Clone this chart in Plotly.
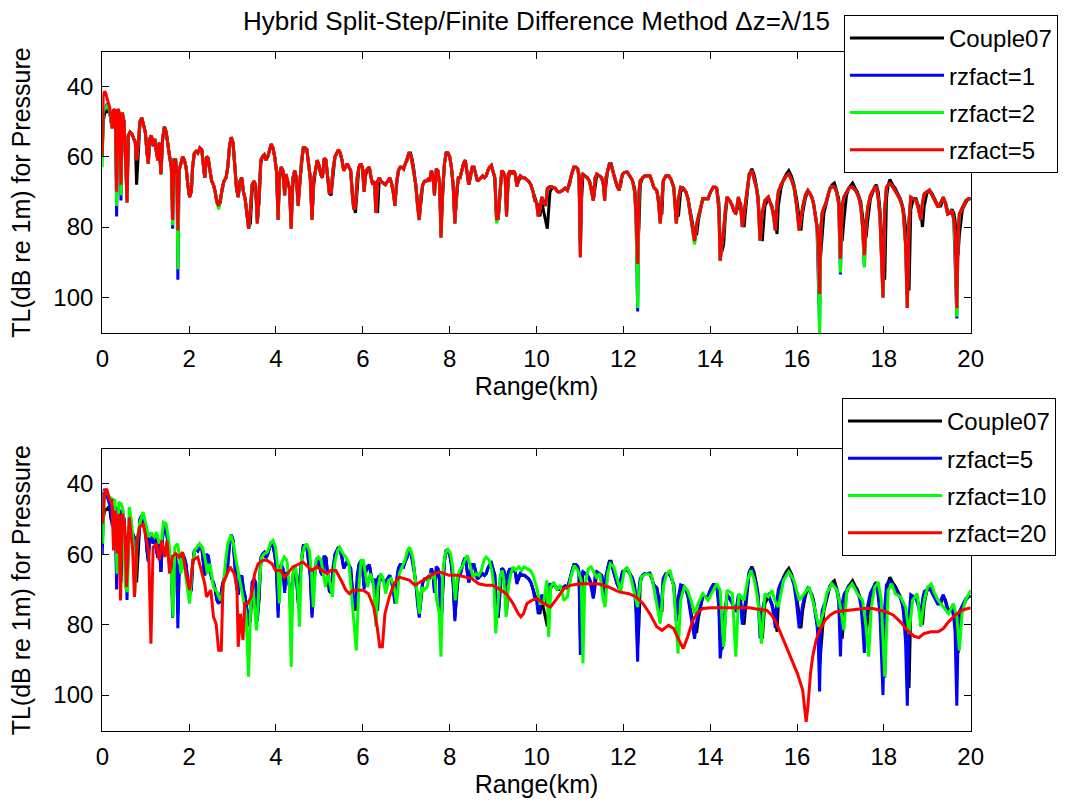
import plotly.graph_objects as go

# ---------------- data ----------------
# Top panel: shared range grid (km)
X_TOP = [
    0.00, 0.02, 0.05, 0.08, 0.11, 0.14, 0.17, 0.20, 0.23, 0.26,
    0.30, 0.33, 0.36, 0.40, 0.43, 0.46, 0.50, 0.54, 0.57, 0.60,
    0.64, 0.68, 0.72, 0.76, 0.79, 0.83, 0.87, 0.91, 0.95, 0.99,
    1.03, 1.06, 1.09, 1.13, 1.17, 1.21, 1.25, 1.28, 1.31, 1.35,
    1.39, 1.43, 1.47, 1.51, 1.55, 1.59, 1.62, 1.65, 1.69, 1.72,
    1.74, 1.77, 1.81, 1.85, 1.89, 1.93, 1.97, 2.01, 2.05, 2.08,
    2.12, 2.16, 2.20, 2.25, 2.29, 2.33, 2.36, 2.40, 2.44, 2.48,
    2.52, 2.56, 2.60, 2.64, 2.68, 2.72, 2.76, 2.80, 2.85, 2.89,
    2.93, 2.97, 3.01, 3.05, 3.09, 3.13, 3.17, 3.21, 3.25, 3.29,
    3.33, 3.37, 3.41, 3.45, 3.49, 3.53, 3.57, 3.61, 3.65, 3.69,
    3.73, 3.77, 3.81, 3.85, 3.89, 3.93, 3.97, 4.01, 4.05, 4.08,
    4.12, 4.16, 4.20, 4.23, 4.27, 4.31, 4.35, 4.39, 4.43, 4.47,
    4.51, 4.55, 4.59, 4.63, 4.67, 4.71, 4.75, 4.79, 4.83, 4.87,
    4.91, 4.95, 4.99, 5.03, 5.07, 5.11, 5.15, 5.19, 5.23, 5.27,
    5.31, 5.36, 5.40, 5.44, 5.48, 5.52, 5.56, 5.60, 5.64, 5.68,
    5.72, 5.76, 5.79, 5.83, 5.87, 5.91, 5.95, 5.99, 6.03, 6.07,
    6.11, 6.15, 6.19, 6.23, 6.27, 6.30, 6.34, 6.38, 6.42, 6.47,
    6.52, 6.57, 6.62, 6.66, 6.70, 6.74, 6.78, 6.82, 6.86, 6.90,
    6.94, 6.98, 7.02, 7.06, 7.10, 7.14, 7.18, 7.22, 7.26, 7.30,
    7.34, 7.38, 7.42, 7.46, 7.50, 7.54, 7.58, 7.62, 7.65, 7.69,
    7.73, 7.77, 7.80, 7.84, 7.88, 7.92, 7.96, 8.00, 8.04, 8.08,
    8.12, 8.16, 8.20, 8.24, 8.28, 8.32, 8.36, 8.40, 8.44, 8.48,
    8.52, 8.56, 8.60, 8.64, 8.68, 8.72, 8.76, 8.80, 8.84, 8.88,
    8.92, 8.96, 9.00, 9.04, 9.08, 9.12, 9.16, 9.20, 9.24, 9.28,
    9.31, 9.35, 9.39, 9.43, 9.47, 9.51, 9.55, 9.59, 9.63, 9.67,
    9.72, 9.77, 9.82, 9.87, 9.92, 9.96, 10.00, 10.04, 10.08, 10.12,
    10.17, 10.21, 10.25, 10.31, 10.37, 10.43, 10.49, 10.55, 10.61, 10.66,
    10.71, 10.76, 10.81, 10.86, 10.91, 10.95, 10.98, 11.01, 11.04, 11.07,
    11.12, 11.17, 11.22, 11.27, 11.31, 11.35, 11.39, 11.45, 11.50, 11.54,
    11.57, 11.60, 11.64, 11.68, 11.72, 11.77, 11.82, 11.86, 11.90, 11.94,
    11.98, 12.03, 12.09, 12.15, 12.21, 12.26, 12.29, 12.33, 12.36, 12.39,
    12.44, 12.49, 12.55, 12.61, 12.66, 12.70, 12.77, 12.81, 12.85, 12.89,
    12.92, 12.98, 13.04, 13.10, 13.16, 13.22, 13.27, 13.32, 13.38, 13.44,
    13.49, 13.54, 13.59, 13.64, 13.69, 13.73, 13.78, 13.83, 13.89, 13.95,
    14.01, 14.07, 14.12, 14.15, 14.20, 14.23, 14.27, 14.31, 14.35, 14.39,
    14.45, 14.51, 14.55, 14.59, 14.65, 14.70, 14.74, 14.78, 14.81, 14.85,
    14.90, 14.96, 15.01, 15.06, 15.10, 15.15, 15.20, 15.26, 15.34, 15.42,
    15.46, 15.50, 15.54, 15.57, 15.63, 15.69, 15.75, 15.81, 15.87, 15.93,
    15.99, 16.05, 16.09, 16.13, 16.19, 16.25, 16.30, 16.34, 16.38, 16.42,
    16.46, 16.49, 16.52, 16.55, 16.58, 16.62, 16.66, 16.71, 16.76, 16.81,
    16.86, 16.91, 16.96, 17.00, 17.04, 17.08, 17.14, 17.19, 17.24, 17.28,
    17.34, 17.39, 17.43, 17.47, 17.51, 17.55, 17.59, 17.63, 17.69, 17.75,
    17.79, 17.83, 17.87, 17.91, 17.95, 17.98, 18.02, 18.06, 18.10, 18.14,
    18.20, 18.26, 18.32, 18.38, 18.42, 18.45, 18.50, 18.54, 18.58, 18.62,
    18.68, 18.74, 18.80, 18.85, 18.89, 18.93, 18.99, 19.05, 19.11, 19.17,
    19.21, 19.25, 19.31, 19.37, 19.42, 19.47, 19.52, 19.57, 19.61, 19.64,
    19.68, 19.71, 19.74, 19.81, 19.89, 19.95, 20.00,
]

# Couple07 (TL, dB re 1m)
TL_COUPLE07 = [
    58, 50, 48, 47, 47.5, 46.5, 47, 50, 51, 47,
    47, 66, 47, 48, 66, 48, 50, 60, 70, 54,
    53, 53.5, 55, 56, 68, 60, 50, 49, 51, 53,
    59, 62, 55, 54, 57, 55, 59, 61, 56, 65,
    55, 51.5, 53, 57, 60, 63, 74, 61, 61, 66,
    77, 64, 62, 60, 61, 63, 68, 71.5, 70, 63,
    59, 58.5, 59, 57.5, 58, 62, 66, 60, 60.5, 64,
    67, 68, 70, 73, 74, 73, 69, 67, 66, 63,
    57, 54.5, 56, 62, 69, 71.5, 67, 66, 70, 72,
    76, 80, 79, 70, 67, 68, 78, 73, 62, 60,
    59.5, 61, 60, 58, 56.5, 57.5, 60, 64, 76, 67,
    63, 64, 70, 66, 67, 69, 78, 68, 64, 66,
    73, 67, 61, 57.5, 57.5, 58, 62, 66, 77, 68,
    64, 61, 62.5, 65, 66, 60.5, 61, 66, 70.5, 71,
    65, 60, 59, 58, 59, 61, 64, 63, 62, 63,
    64, 70, 74, 76, 68, 63, 62, 63, 69, 65,
    63.5, 63, 66, 68, 67, 74, 76, 66, 67, 67.5,
    68, 67, 66, 67.5, 70, 73, 68, 64, 63, 63,
    63.5, 62, 61, 59, 59, 61, 64, 68, 73, 77,
    73, 68, 67, 67, 66.5, 67, 64, 66, 70, 65,
    64, 68, 80, 72, 62, 59, 59, 60, 63, 68,
    78, 72, 66, 66, 64, 62, 61, 64, 68, 66,
    63, 63, 65, 67, 66.5, 66, 65.5, 66, 65.5, 64,
    63, 62.5, 64, 66, 77, 78, 71, 64, 64.5, 66,
    76, 67, 64, 65, 64, 65, 68, 67, 65.5, 66,
    66, 66.5, 67, 68, 70, 72, 73, 74, 77, 73,
    76, 78, 80.5, 70, 68.7, 69, 70, 70, 69.5, 69,
    69.6, 68, 65, 63, 63, 63.5, 65, 84, 72, 65,
    65.5, 66, 67, 69, 72.5, 68, 65, 65.5, 66, 68,
    71, 68, 64, 62, 62, 64.5, 67, 68.5, 69.6, 68,
    65, 64.5, 64.4, 65.5, 66.8, 69, 73, 86, 80, 68,
    66, 65.5, 65.5, 65.4, 67, 68.7, 69.6, 72, 76, 76,
    67, 65.5, 65.4, 66.5, 68.7, 76, 77, 70, 69, 70,
    72, 75, 79, 82, 82, 78, 75, 72, 72, 72,
    70, 68.7, 68.7, 69, 73, 84, 87, 85, 77, 72,
    72.5, 74, 75.5, 76, 74, 73, 78, 80, 76, 70,
    65, 63.5, 65, 68, 71, 80, 84, 74, 72, 74,
    76, 78, 82, 74, 69, 66.5, 65, 64, 65.5, 68,
    72, 78, 81, 76, 72, 69.6, 70.5, 71.5, 73, 76,
    79, 82, 92, 87, 84, 76, 74, 71, 69, 68,
    67.5, 69.5, 72, 78, 84, 78, 71, 69, 68, 67.5,
    69, 70, 71.5, 73, 77, 80, 83, 78, 72, 70,
    68.5, 68, 70, 75, 82, 90, 95, 72, 68, 66.5,
    68, 69, 70.5, 72, 73.5, 75, 80, 90, 98, 75,
    72, 72, 74, 76, 80, 74, 70.5, 69.5, 70.5, 72,
    73, 74, 74, 72, 73, 75.5, 76, 75, 76, 78,
    85, 88, 82, 75, 73, 72, 72,
]

# rzfact=1
TL_RZ1 = [
    60, 48, 47, 46, 45, 46, 47, 50, 52, 47,
    47, 77, 46.5, 48, 72.5, 47.5, 50, 62, 73, 54,
    53, 53.5, 55, 56, 61, 55, 50, 49, 51, 53,
    59, 62, 55, 54, 57, 55, 59, 61, 56, 65,
    55, 51.5, 53, 57, 60, 63, 80.5, 61, 61, 66,
    95, 64, 62, 60, 61, 63, 68, 71.5, 70, 63,
    59, 58.5, 59, 57.5, 58, 62, 66, 60, 60.5, 64,
    67, 68, 70, 73, 74, 72, 69, 67, 66, 63,
    57, 54.5, 56, 62, 69, 71.5, 67, 66, 70, 72,
    76, 80.5, 75, 68, 67, 68, 79, 72, 61, 60,
    59.5, 61, 60, 58, 56.5, 57.5, 60, 64, 78, 65,
    63, 64, 71, 65, 67, 69, 80.5, 66, 64, 66,
    74, 66, 61, 57.5, 57.5, 58, 62, 66, 78, 66,
    64, 61, 62.5, 65, 66, 60.5, 61, 66, 70.5, 70,
    64, 60, 59, 58, 59, 61, 64, 63, 62, 63,
    64, 71, 75, 74, 66, 63, 62, 63, 70, 64,
    63.5, 63, 66, 68, 67, 76, 67, 66, 67, 67.5,
    68, 67, 66, 67.5, 70, 74, 67, 64, 63, 63,
    63.5, 62, 61, 59, 59.5, 62, 65, 68, 74, 78,
    71, 68, 67, 67, 66.5, 67, 64, 66, 71, 63.5,
    64, 68, 83, 69, 62, 59, 59, 60, 63, 68,
    79, 70, 66, 66, 64, 62, 61, 64, 68, 65,
    63, 63, 65, 67, 66.5, 66, 65.5, 66, 65.5, 64,
    63, 62.5, 64, 66, 78, 77, 70, 64, 64.5, 66,
    77, 65, 64, 65, 64, 65, 68.5, 66, 65.5, 66,
    66, 66.5, 67, 68, 70, 72.5, 73, 77, 75, 71.5,
    73, 74, 69, 68.5, 68.7, 69, 70, 70, 69.5, 69,
    69.6, 67, 65, 63, 63, 63.5, 66, 88.6, 67, 65,
    65.5, 66, 67, 70, 72.5, 66, 65, 65.5, 66, 68,
    72.5, 66, 63.5, 62, 62.5, 65, 67, 68.5, 69.6, 67,
    65, 64.5, 64.4, 65.5, 66.8, 70, 76.3, 104, 70, 66.8,
    66, 65.5, 65.5, 65.4, 67, 68.7, 69.6, 73, 79, 70,
    66.8, 65.5, 65.4, 66.5, 68.7, 79, 72, 68.7, 69, 70,
    72, 76.3, 80, 84.5, 79, 77, 74, 72, 72, 72,
    70, 68.7, 68.7, 69, 75, 89.6, 85, 81, 75, 71.5,
    72.5, 74, 75.5, 76.3, 71.5, 74, 80, 76, 73.4, 69,
    65, 64, 66, 68.7, 72, 83.9, 76, 72.5, 71.5, 74.4,
    77, 81, 73, 70, 68, 66.8, 65.5, 65, 66.5, 68.7,
    74, 81, 77, 74.4, 71, 69.6, 70.5, 71.5, 73.5, 76.3,
    80, 95, 108, 80, 76, 74.5, 73.4, 71, 69, 68.5,
    68.7, 70, 73.4, 93.5, 74, 71.5, 70, 69, 68.7, 68.7,
    69.5, 70.6, 72, 74.4, 80, 91, 79, 74.4, 71, 69.6,
    68.7, 68.7, 72, 77, 88, 100, 75, 68.7, 68, 67.7,
    68.5, 69.6, 71, 72.5, 74, 76.3, 85, 103, 78, 71.5,
    72, 72.5, 75, 78, 73, 70.6, 70, 69.6, 71, 72.5,
    73.5, 74.4, 73, 71.5, 73.5, 76.3, 76, 75.3, 78, 88,
    106, 82, 76.3, 74.4, 72.5, 72, 72,
]

# rzfact=2
TL_RZ2 = [
    63, 47, 46.5, 46, 45.5, 46, 47, 50, 52, 47,
    47, 74, 46.5, 48, 71, 47.5, 50, 62, 73, 54,
    53, 53.5, 55, 56, 61, 55, 50, 49, 51, 53,
    59, 62, 55, 54, 57, 55, 59, 61, 56, 65,
    55, 51.5, 53, 57, 60, 63, 79.5, 61, 61, 66,
    92, 64, 62, 60, 61, 63, 68, 71.5, 70, 63,
    59, 58.5, 59, 57.5, 58, 62, 66, 60, 60.5, 64,
    67, 68, 70, 73, 75, 72, 69, 67, 66, 63,
    57, 54.5, 56, 62, 69, 71.5, 67, 66, 70, 72,
    76, 80.5, 75, 68, 67, 68, 79, 72, 61, 60,
    59.5, 61, 60, 58, 56.5, 57.5, 60, 64, 78, 65,
    63, 64, 71, 65, 67, 69, 80.5, 66, 64, 66,
    74, 66, 61, 57.5, 57.5, 58, 62, 66, 78, 66,
    64, 61, 62.5, 65, 66, 60.5, 61, 66, 70.5, 70,
    64, 60, 59, 58, 59, 61, 64, 63, 62, 63,
    64, 71, 75, 74, 66, 63, 62, 63, 70, 64,
    63.5, 63, 66, 68, 67, 76, 67, 66, 67, 67.5,
    68, 67, 66, 67.5, 70, 74, 67, 64, 63, 63,
    63.5, 62, 61, 59, 59.5, 62, 65, 68, 74, 78,
    71, 68, 67, 67, 66.5, 67, 64, 66, 71, 63.5,
    64, 68, 83, 69, 62, 59, 59, 60, 63, 68,
    79, 70, 66, 66, 64, 62, 61, 64, 68, 65,
    63, 63, 65, 67, 66.5, 66, 65.5, 66, 65.5, 64,
    63, 62.5, 64, 66, 79, 77, 70, 64, 64.5, 66,
    77, 65, 64, 65, 64, 65, 68.5, 66, 65.5, 66,
    66, 66.5, 67, 68, 70, 72.5, 73, 77, 75, 71.5,
    73, 74, 69, 68.5, 68.7, 69, 70, 70, 69.5, 69,
    69.6, 67, 65, 63, 63, 63.5, 66, 88.6, 67, 65,
    65.5, 66, 67, 70, 72.5, 66, 65, 65.5, 66, 68,
    72.5, 66, 63.5, 62, 62.5, 65, 67, 68.5, 69.6, 67,
    65, 64.5, 64.4, 65.5, 66.8, 70, 76.3, 103, 70, 66.8,
    66, 65.5, 65.5, 65.4, 67, 68.7, 69.6, 73, 79, 70,
    66.8, 65.5, 65.4, 66.5, 68.7, 79, 72, 68.7, 69, 70,
    72, 76.3, 80, 85, 79, 77, 74, 72, 72, 72,
    70, 68.7, 68.7, 69, 75, 89.6, 85, 81, 75, 71.5,
    72.5, 74, 75.5, 76.3, 71.5, 74, 80, 76, 73.4, 69,
    65, 64, 66, 68.7, 72, 83.9, 76, 72.5, 71.5, 74.4,
    77, 81, 73, 70, 68, 66.8, 65.5, 65, 66.5, 68.7,
    74, 81, 77, 74.4, 71, 69.6, 70.5, 71.5, 73.5, 76.3,
    80, 90, 111, 80, 76, 74.5, 73.4, 71, 69, 68.5,
    68.7, 70, 73.4, 93, 74, 71.5, 70, 69, 68.7, 68.7,
    69.5, 70.6, 72, 74.4, 80, 91.5, 79, 74.4, 71, 69.6,
    68.7, 68.7, 72, 77, 88, 100, 75, 68.7, 68, 67.7,
    68.5, 69.6, 71, 72.5, 74, 76.3, 85, 103, 78, 71.5,
    72, 72.5, 75, 78, 73, 70.6, 70, 69.6, 71, 72.5,
    73.5, 74.4, 73, 71.5, 73.5, 76.3, 76, 75.3, 78, 86,
    105.5, 82, 76.3, 74.4, 72.5, 72, 72,
]

# rzfact=5 (shown in both panels)
TL_RZ5 = [
    60, 43, 41.5, 42, 43.5, 45, 46, 49, 52, 46.5,
    47, 70, 46.5, 48, 68, 47.5, 50, 62, 73, 54,
    53, 53.5, 55, 56, 61, 55, 50, 49, 51, 53,
    59, 62, 55, 54, 57, 55, 59, 61, 56, 65,
    55, 51.5, 53, 57, 60, 63, 78, 61, 61, 66,
    81, 64, 62, 60, 61, 63, 68, 71.5, 70, 63,
    59, 58.5, 59, 57.5, 58, 62, 66, 60, 60.5, 64,
    67, 68, 70, 73, 74, 72, 69, 67, 66, 63,
    57, 54.5, 56, 62, 69, 71.5, 67, 66, 70, 72,
    76, 80.5, 75, 68, 67, 68, 79, 72, 61, 60,
    59.5, 61, 60, 58, 56.5, 57.5, 60, 64, 78, 65,
    63, 64, 71, 65, 67, 69, 80.5, 66, 64, 66,
    74, 66, 61, 57.5, 57.5, 58, 62, 66, 78, 66,
    64, 61, 62.5, 65, 66, 60.5, 61, 66, 70.5, 70,
    64, 60, 59, 58, 59, 61, 64, 63, 62, 63,
    64, 71, 75, 74, 66, 63, 62, 63, 70, 64,
    63.5, 63, 66, 68, 67, 76, 67, 66, 67, 67.5,
    68, 67, 66, 67.5, 70, 74, 67, 64, 63, 63,
    63.5, 62, 61, 59, 59.5, 62, 65, 68, 74, 78,
    71, 68, 67, 67, 66.5, 67, 64, 66, 71, 63.5,
    64, 68, 83, 69, 62, 59, 59, 60, 63, 68,
    79, 70, 66, 66, 64, 62, 61, 64, 68, 65,
    63, 63, 65, 67, 66.5, 66, 65.5, 66, 65.5, 64,
    63, 62.5, 64, 66, 78, 77, 70, 64, 64.5, 66,
    77, 65, 64, 65, 64, 65, 68.5, 66, 65.5, 66,
    66, 66.5, 67, 68, 70, 72.5, 73, 77, 75, 71.5,
    73, 74, 69, 68.5, 68.7, 69, 70, 70, 69.5, 69,
    69.6, 67, 65, 63, 63, 63.5, 66, 88.6, 67, 65,
    65.5, 66, 67, 70, 72.5, 66, 65, 65.5, 66, 68,
    72.5, 66, 63.5, 62, 62.5, 65, 67, 68.5, 69.6, 67,
    65, 64.5, 64.4, 65.5, 66.8, 70, 76.3, 90.5, 70, 66.8,
    66, 65.5, 65.5, 65.4, 67, 68.7, 69.6, 73, 79, 70,
    66.8, 65.5, 65.4, 66.5, 68.7, 79, 72, 68.7, 69, 70,
    72, 76.3, 80, 84, 79, 77, 74, 72, 72, 72,
    70, 68.7, 68.7, 69, 75, 89.6, 85, 81, 75, 71.5,
    72.5, 74, 75.5, 76.3, 71.5, 74, 80, 76, 73.4, 69,
    65, 64, 66, 68.7, 72, 83.9, 76, 72.5, 71.5, 74.4,
    77, 81, 73, 70, 68, 66.8, 65.5, 65, 66.5, 68.7,
    74, 81, 77, 74.4, 71, 69.6, 70.5, 71.5, 73.5, 76.3,
    80, 84.8, 99, 80, 76, 74.5, 73.4, 71, 69, 68.5,
    68.7, 70, 73.4, 89, 74, 71.5, 70, 69, 68.7, 68.7,
    69.5, 70.6, 72, 74.4, 80, 88, 79, 74.4, 71, 69.6,
    68.7, 68.7, 72, 77, 88, 100, 75, 68.7, 68, 67.7,
    68.5, 69.6, 71, 72.5, 74, 76.3, 85, 103, 78, 71.5,
    72, 72.5, 75, 78, 73, 70.6, 70, 69.6, 71, 72.5,
    73.5, 74.4, 73, 71.5, 73.5, 76.3, 76, 75.3, 78, 82,
    103, 82, 76.3, 74.4, 72.5, 72, 72,
]

# Bottom panel: rzfact=10
X_RZ10 = [
    0.01, 0.05, 0.10, 0.17, 0.23, 0.29, 0.34, 0.38, 0.44, 0.48,
    0.53, 0.58, 0.62, 0.67, 0.71, 0.75, 0.80, 0.86, 0.94, 1.02,
    1.07, 1.13, 1.20, 1.25, 1.31, 1.37, 1.41, 1.47, 1.53, 1.59,
    1.63, 1.67, 1.73, 1.77, 1.81, 1.86, 1.93, 2.01, 2.07, 2.13,
    2.18, 2.24, 2.31, 2.36, 2.42, 2.48, 2.56, 2.64, 2.72, 2.78,
    2.84, 2.89, 2.96, 3.02, 3.08, 3.14, 3.20, 3.26, 3.31, 3.37,
    3.42, 3.47, 3.55, 3.61, 3.67, 3.74, 3.80, 3.87, 3.93, 3.99,
    4.04, 4.08, 4.12, 4.19, 4.25, 4.31, 4.35, 4.39, 4.45, 4.50,
    4.54, 4.59, 4.65, 4.70, 4.77, 4.82, 4.86, 4.92, 4.98, 5.04,
    5.10, 5.14, 5.19, 5.24, 5.30, 5.35, 5.42, 5.47, 5.54, 5.61,
    5.68, 5.73, 5.79, 5.85, 5.91, 5.96, 6.01, 6.07, 6.11, 6.17,
    6.23, 6.27, 6.30, 6.35, 6.41, 6.46, 6.53, 6.59, 6.65, 6.72,
    6.78, 6.84, 6.91, 6.97, 7.03, 7.08, 7.15, 7.20, 7.26, 7.30,
    7.36, 7.41, 7.48, 7.54, 7.60, 7.65, 7.70, 7.76, 7.80, 7.84,
    7.90, 7.95, 8.02, 8.07, 8.13, 8.18, 8.23, 8.29, 8.35, 8.41,
    8.48, 8.54, 8.60, 8.67, 8.73, 8.79, 8.84, 8.91, 8.97, 9.02,
    9.06, 9.11, 9.16, 9.21, 9.25, 9.30, 9.35, 9.41, 9.46, 9.52,
    9.59, 9.66, 9.71, 9.78, 9.86, 9.92, 10.00, 10.08, 10.16, 10.24,
    10.28, 10.33, 10.40, 10.47, 10.55, 10.63, 10.71, 10.79, 10.87, 10.95,
    11.03, 11.07, 11.11, 11.19, 11.26, 11.38, 11.46, 11.54, 11.58, 11.64,
    11.70, 11.78, 11.86, 11.94, 12.02, 12.09, 12.17, 12.25, 12.33, 12.41,
    12.53, 12.65, 12.73, 12.85, 12.92, 13.00, 13.08, 13.16, 13.26, 13.32,
    13.40, 13.48, 13.56, 13.64, 13.72, 13.83, 13.95, 14.03, 14.15, 14.23,
    14.31, 14.39, 14.51, 14.59, 14.66, 14.78, 14.86, 14.94, 15.02, 15.10,
    15.18, 15.26, 15.34, 15.42, 15.49, 15.57, 15.69, 15.81, 15.93, 16.05,
    16.17, 16.28, 16.40, 16.50, 16.60, 16.68, 16.80, 16.92, 17.00, 17.08,
    17.15, 17.27, 17.39, 17.51, 17.59, 17.65, 17.71, 17.79, 17.87, 17.94,
    18.02, 18.10, 18.18, 18.26, 18.38, 18.50, 18.58, 18.66, 18.77, 18.85,
    18.93, 19.01, 19.09, 19.17, 19.25, 19.37, 19.49, 19.60, 19.68, 19.74,
    19.80, 19.88, 20.00,
]
TL_RZ10 = [
    57.0, 41.9, 42.4, 43.8, 44.3, 44.7, 65.5, 45.2, 45.7, 47.6,
    69.3, 70.7, 46.6, 50.4, 56.1, 71.2, 56.1, 51.3, 48.0, 52.3,
    55.1, 54.2, 55.1, 53.7, 57.0, 55.6, 50.9, 51.3, 56.1, 65.5,
    77.8, 58.0, 57.0, 59.8, 65.5, 60.8, 67.4, 74.0, 63.6, 58.9,
    58.0, 57.0, 58.4, 60.8, 65.5, 62.7, 69.3, 70.7, 73.1, 70.2,
    61.7, 57.0, 54.6, 57.0, 61.7, 65.5, 69.3, 73.1, 76.9, 94.8,
    73.1, 69.3, 81.6, 69.3, 60.8, 59.8, 59.4, 57.0, 56.1, 58.0,
    63.6, 74.0, 62.7, 60.8, 61.7, 69.3, 92.0, 65.5, 63.6, 69.3,
    80.6, 60.8, 58.0, 57.0, 58.9, 65.5, 75.0, 61.7, 60.8, 61.7,
    66.5, 69.3, 65.5, 67.9, 72.1, 62.7, 58.9, 58.0, 59.8, 60.8,
    62.7, 69.3, 77.8, 87.3, 69.3, 61.7, 61.7, 66.5, 69.3, 65.5,
    67.4, 73.1, 80.6, 69.3, 65.5, 66.5, 71.2, 67.4, 66.9, 69.3,
    74.0, 65.5, 63.6, 61.7, 58.9, 58.0, 60.8, 66.5, 71.2, 76.9,
    69.3, 70.2, 69.3, 65.5, 66.5, 65.5, 73.1, 76.9, 89.1, 65.5,
    59.8, 58.4, 59.8, 63.6, 73.1, 66.5, 64.6, 63.6, 61.7, 60.3,
    63.6, 66.5, 65.5, 66.0, 64.6, 61.7, 60.8, 61.7, 64.6, 69.3,
    82.5, 73.1, 66.5, 64.6, 67.4, 77.8, 69.3, 65.5, 63.6, 64.6,
    63.6, 64.6, 63.6, 64.1, 64.6, 66.0, 69.3, 74.0, 74.0, 67.4,
    83.5, 69.3, 67.9, 70.2, 68.8, 73.1, 72.1, 66.5, 63.2, 64.6,
    67.4, 91.0, 69.3, 64.1, 63.6, 66.5, 65.5, 73.1, 75.0, 65.5,
    62.7, 63.6, 67.4, 70.7, 64.6, 63.6, 66.5, 71.2, 75.0, 66.5,
    65.5, 66.0, 71.2, 79.7, 69.3, 65.5, 64.6, 69.3, 88.2, 73.1,
    69.3, 70.2, 73.1, 76.9, 74.0, 71.2, 73.1, 71.2, 68.4, 70.2,
    86.3, 70.2, 71.2, 89.1, 71.2, 73.1, 67.4, 64.6, 67.4, 73.1,
    85.4, 71.2, 72.1, 70.2, 73.1, 75.0, 67.4, 65.0, 67.4, 73.1,
    71.2, 69.3, 75.0, 80.6, 76.9, 71.2, 68.4, 70.2, 75.0, 81.6,
    70.2, 68.4, 71.2, 73.1, 80.6, 89.1, 75.0, 69.3, 67.9, 73.1,
    94.8, 70.2, 68.4, 71.2, 72.1, 75.0, 82.5, 73.1, 71.2, 80.6,
    73.1, 69.3, 68.4, 71.2, 73.1, 75.0, 76.9, 74.0, 77.8, 87.3,
    76.9, 73.1, 70.2,
]

# Bottom panel: rzfact=20
X_RZ20 = [
    0.01, 0.05, 0.10, 0.17, 0.22, 0.26, 0.30, 0.34, 0.38, 0.42,
    0.46, 0.52, 0.56, 0.62, 0.66, 0.70, 0.74, 0.80, 0.86, 0.94,
    1.02, 1.07, 1.12, 1.17, 1.25, 1.31, 1.37, 1.44, 1.49, 1.55,
    1.61, 1.69, 1.77, 1.85, 1.93, 2.01, 2.09, 2.20, 2.28, 2.36,
    2.40, 2.50, 2.56, 2.62, 2.68, 2.74, 2.78, 2.88, 2.94, 3.04,
    3.10, 3.13, 3.18, 3.24, 3.28, 3.35, 3.43, 3.51, 3.59, 3.71,
    3.79, 3.91, 3.99, 4.11, 4.19, 4.27, 4.39, 4.54, 4.62, 4.74,
    4.82, 4.94, 5.06, 5.18, 5.26, 5.38, 5.50, 5.61, 5.69, 5.77,
    5.89, 6.01, 6.13, 6.25, 6.33, 6.39, 6.45, 6.51, 6.61, 6.72,
    6.84, 6.96, 7.08, 7.20, 7.32, 7.48, 7.64, 7.76, 7.87, 7.99,
    8.19, 8.39, 8.51, 8.67, 8.83, 8.98, 9.14, 9.30, 9.46, 9.58,
    9.64, 9.70, 9.78, 9.89, 10.02, 10.16, 10.32, 10.47, 10.63, 10.79,
    11.03, 11.26, 11.42, 11.66, 11.90, 12.13, 12.29, 12.45, 12.61, 12.77,
    12.89, 13.04, 13.16, 13.28, 13.38, 13.48, 13.60, 13.72, 13.83, 14.03,
    14.27, 14.58, 14.90, 15.14, 15.30, 15.42, 15.53, 15.69, 15.85, 16.01,
    16.13, 16.17, 16.21, 16.25, 16.31, 16.36, 16.44, 16.52, 16.64, 16.76,
    16.88, 17.04, 17.19, 17.35, 17.55, 17.75, 17.91, 18.06, 18.22, 18.38,
    18.54, 18.70, 18.81, 18.93, 19.09, 19.25, 19.37, 19.49, 19.64, 19.80,
    20.00,
]
TL_RZ20 = [
    51.3, 42.8, 41.4, 44.7, 44.7, 58.9, 47.6, 59.8, 48.5, 73.1,
    48.5, 52.3, 69.3, 49.5, 54.2, 58.9, 72.1, 56.1, 52.3, 51.3,
    56.1, 59.8, 85.4, 58.0, 57.0, 61.7, 56.1, 60.8, 56.1, 65.5,
    60.8, 59.8, 60.8, 59.4, 65.5, 70.2, 61.7, 60.8, 64.6, 68.4,
    72.1, 70.2, 77.8, 79.7, 87.3, 87.3, 68.4, 65.5, 63.6, 65.5,
    69.3, 86.3, 76.9, 84.4, 74.0, 74.0, 72.1, 65.5, 62.7, 61.7,
    61.7, 62.7, 64.6, 64.6, 66.5, 65.5, 63.6, 62.7, 62.2, 63.6,
    64.6, 63.6, 64.6, 65.5, 64.6, 64.6, 67.4, 70.2, 71.2, 70.2,
    70.2, 70.2, 71.2, 75.0, 80.6, 86.3, 86.3, 76.9, 72.1, 68.4,
    66.5, 66.9, 67.4, 68.8, 67.9, 66.5, 65.5, 65.0, 65.5, 66.0,
    66.0, 66.5, 66.9, 68.4, 68.8, 68.8, 69.8, 71.2, 74.0, 76.9,
    77.8, 76.9, 74.0, 73.1, 72.6, 74.0, 75.0, 72.6, 69.8, 68.8,
    68.4, 68.4, 68.4, 69.3, 70.7, 71.2, 72.1, 74.0, 76.9, 80.6,
    81.6, 80.2, 81.1, 84.4, 86.8, 83.5, 78.8, 76.4, 75.4, 75.2,
    75.2, 75.2, 75.2, 75.7, 75.9, 77.3, 79.7, 84.4, 89.1, 93.9,
    98.6, 104.3, 107.6, 103.4, 93.9, 89.1, 84.4, 81.6, 78.8, 77.3,
    76.4, 76.1, 75.9, 75.7, 75.4, 75.4, 75.9, 76.4, 77.3, 79.2,
    81.6, 83.3, 83.7, 82.5, 82.0, 82.0, 81.1, 79.2, 77.3, 75.9,
    75.2,
]

TITLE = "Hybrid Split-Step/Finite Difference Method \u0394z=\u03bb/15"
X_LABEL = "Range(km)"
Y_LABEL = "TL(dB re 1m) for Pressure"
X_TICKS = [0, 2, 4, 6, 8, 10, 12, 14, 16, 18, 20]
Y_TICKS = [40, 60, 80, 100]

for a in (TL_COUPLE07, TL_RZ1, TL_RZ2, TL_RZ5):
    assert len(a) == len(X_TOP), (len(a), len(X_TOP))
assert len(X_RZ10) == len(TL_RZ10), (len(X_RZ10), len(TL_RZ10))
assert len(X_RZ20) == len(TL_RZ20), (len(X_RZ20), len(TL_RZ20))

# ---------------- figure ----------------
W, H = 1067, 804
FONT = "Arial, 'Liberation Sans', sans-serif"
BLACK, BLUE, GREEN, RED = "#000000", "#0000FF", "#00FF00", "#FF0000"
LW = 3

fig = go.Figure()

top = [("Couple07", TL_COUPLE07, BLACK), ("rzfact=1", TL_RZ1, BLUE),
       ("rzfact=2", TL_RZ2, GREEN), ("rzfact=5", TL_RZ5, RED)]
for i, (name, ys, col) in enumerate(top):
    fig.add_trace(go.Scatter(x=X_TOP, y=ys, mode="lines", name=name,
                             line=dict(color=col, width=LW),
                             xaxis="x", yaxis="y", legend="legend",
                             legendgroup="t%d" % i))

bottom = [("Couple07", X_TOP, TL_COUPLE07, BLACK), ("rzfact=5", X_TOP, TL_RZ5, BLUE),
          ("rzfact=10", X_RZ10, TL_RZ10, GREEN), ("rzfact=20", X_RZ20, TL_RZ20, RED)]
for i, (name, xs, ys, col) in enumerate(bottom):
    fig.add_trace(go.Scatter(x=xs, y=ys, mode="lines", name=name,
                             line=dict(color=col, width=LW),
                             xaxis="x2", yaxis="y2", legend="legend2",
                             legendgroup="b%d" % i))

XD = [102.3 / W, 970.7 / W]
YD_TOP = [1 - 333.3 / H, 1 - 51.7 / H]
YD_BOT = [1 - 731.0 / H, 1 - 449.3 / H]

def xaxis_style(domain, anchor):
    return dict(domain=domain, anchor=anchor, range=[0, 20], tickvals=X_TICKS,
                automargin=False,
                ticks="inside", ticklen=7, tickwidth=1, tickcolor="black",
                showline=True, linecolor="black", linewidth=1.3, mirror="ticks",
                showgrid=False, zeroline=False,
                tickfont=dict(size=24, color="black", family=FONT),
                ticklabelstandoff=4,
                title=dict(text=X_LABEL, font=dict(size=25, color="black", family=FONT),
                           standoff=2))

def yaxis_style(domain, anchor):
    return dict(domain=domain, anchor=anchor, range=[110.2, 30.2], tickvals=Y_TICKS,
                automargin=False,
                ticks="inside", ticklen=7, tickwidth=1, tickcolor="black",
                showline=True, linecolor="black", linewidth=1.3, mirror="ticks",
                showgrid=False, zeroline=False,
                tickfont=dict(size=24, color="black", family=FONT),
                ticklabelstandoff=3,
                title=dict(text=Y_LABEL, font=dict(size=25, color="black", family=FONT),
                           standoff=15))

legend_common = dict(bgcolor="white", bordercolor="black", borderwidth=1,
                     font=dict(size=24, color="black", family=FONT),
                     xanchor="left", yanchor="top", tracegroupgap=3,
                     itemwidth=94, itemclick=False, itemdoubleclick=False)

fig.update_layout(
    width=W, height=H, autosize=False,
    margin=dict(l=0, r=0, t=0, b=0, autoexpand=False),
    paper_bgcolor="white", plot_bgcolor="white",
    font=dict(family=FONT, size=24, color="black"),
    hovermode=False,
    title=dict(text=TITLE, x=536.5 / W, xanchor="center", xref="paper",
               y=1 - 21 / H, yanchor="middle", yref="container",
               font=dict(size=26, color="black", family=FONT)),
    xaxis=xaxis_style(XD, "y"),
    yaxis=yaxis_style(YD_TOP, "x"),
    xaxis2=xaxis_style(XD, "y2"),
    yaxis2=yaxis_style(YD_BOT, "x2"),
    legend=dict(x=844 / W, y=1 - 15 / H, **legend_common),
    legend2=dict(x=842 / W, y=1 - 398 / H, **legend_common),
    showlegend=True,
)

fig.write_html("out.html",
               config={"displayModeBar": False, "staticPlot": False},
               post_script="document.body.style.margin='0';"
                           "document.documentElement.style.overflow='hidden';")
